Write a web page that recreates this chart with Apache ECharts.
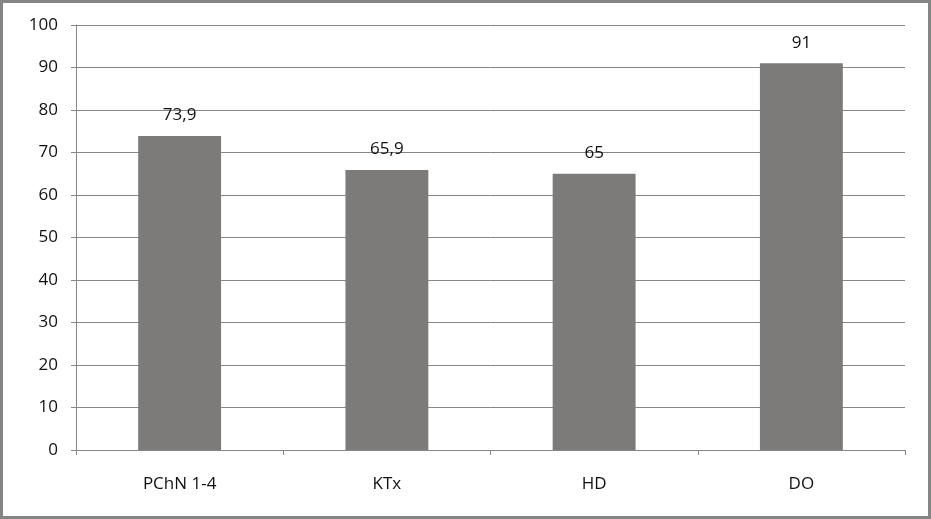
<!DOCTYPE html>
<html><head><meta charset="utf-8">
<script src="https://cdn.jsdelivr.net/npm/echarts@6/dist/echarts.min.js"></script>
<style>
html,body{margin:0;padding:0;background:#fff;}
#c{width:931px;height:519px;box-sizing:border-box;border:3px solid #858585;}
</style></head>
<body><div id="c"></div>
<script>
const categories = ["PChN 1-4", "KTx", "HD", "DO"];
const values = [73.9, 65.9, 65, 91];
const yTicks = {min: 0, max: 100, interval: 10};

const chart = echarts.init(document.getElementById('c'), null, {renderer: 'canvas'});
const font = "'Open Sans', 'DejaVu Sans', sans-serif";
chart.setOption({
  animation: false,
  grid: {left: 73, right: 23, top: 22, bottom: 66},
  xAxis: {
    type: 'category',
    data: categories,
    axisLine: {lineStyle: {color: '#868686', width: 1}},
    axisTick: {show: true, length: 5, lineStyle: {color: '#868686'}},
    axisLabel: {color: '#111', fontSize: 17, fontFamily: font, margin: 26}
  },
  yAxis: {
    type: 'value',
    min: yTicks.min, max: yTicks.max, interval: yTicks.interval,
    axisLine: {show: true, lineStyle: {color: '#868686', width: 1}},
    axisTick: {show: true, length: 5, lineStyle: {color: '#868686'}},
    splitLine: {lineStyle: {color: '#868686', width: 1}},
    axisLabel: {color: '#111', fontSize: 17, fontFamily: font, margin: 18}
  },
  series: [{
    type: 'bar',
    data: values,
    barWidth: '40%',
    itemStyle: {color: '#7d7a7a'},
    label: {
      show: true, position: 'top', distance: 12,
      color: '#111', fontSize: 17, fontFamily: font,
      formatter: p => String(p.value).replace('.', ',')
    }
  }]
});
</script></body></html>
